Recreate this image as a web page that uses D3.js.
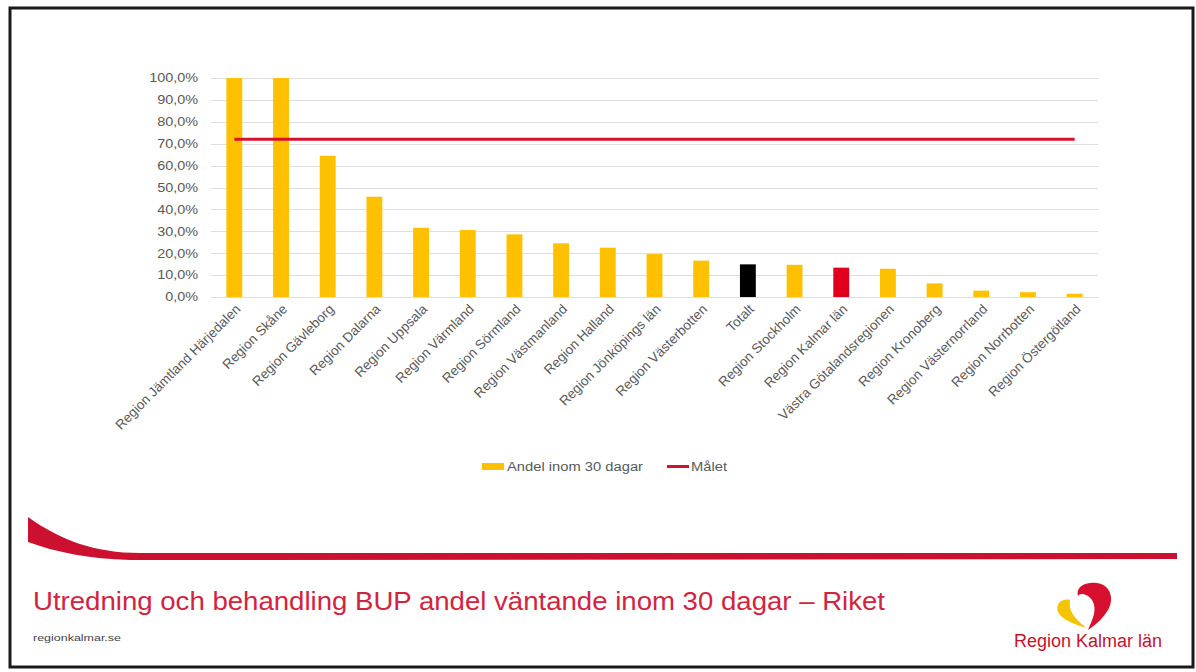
<!DOCTYPE html>
<html lang="sv">
<head>
<meta charset="UTF-8">
<title>Utredning och behandling BUP</title>
<script src="https://d3js.org/d3.v7.min.js"></script>
<style>
  body { margin: 0; background: #ffffff; }
  svg { display: block; font-family: "Liberation Sans", Arial, sans-serif; }
</style>
</head>
<body>
<div id="chart"></div>
<script>
// data
var categories = ["Region Jämtland Härjedalen", "Region Skåne", "Region Gävleborg", "Region Dalarna",
  "Region Uppsala", "Region Värmland", "Region Sörmland", "Region Västmanland", "Region Halland",
  "Region Jönköpings län", "Region Västerbotten", "Totalt", "Region Stockholm", "Region Kalmar län",
  "Västra Götalandsregionen", "Region Kronoberg", "Region Västernorrland", "Region Norrbotten",
  "Region Östergötland"];
var andel = [1.0, 1.0, 0.645, 0.458, 0.316, 0.306, 0.286, 0.245, 0.225, 0.196, 0.166,
  0.149, 0.147, 0.134, 0.129, 0.062, 0.029, 0.022, 0.015];
var malet = 0.72;
var yTicks = [0, 0.1, 0.2, 0.3, 0.4, 0.5, 0.6, 0.7, 0.8, 0.9, 1.0];
var legendLabels = ["Andel inom 30 dagar", "Målet"];
var title = "Utredning och behandling BUP andel väntande inom 30 dagar – Riket";

var W = 1196, H = 672;
var svg = d3.select("#chart").append("svg").attr("width", W).attr("height", H);

// slide frame
svg.append("rect").attr("x", 10).attr("y", 8).attr("width", 1183).attr("height", 659)
  .attr("fill", "#fff").attr("stroke", "#1a1a1a").attr("stroke-width", 3);

var x = d3.scaleBand().domain(categories).range([211, 1098]).paddingInner(0.66).paddingOuter(0.33);
var y = d3.scaleLinear().domain([0, 1]).range([297, 78]);

var sv = d3.formatLocale({decimal: ",", thousands: " ", grouping: [3], currency: ["", " kr"]});
var pct = sv.format(".1%");

// the slide text looks a bit wider than the font, stretch it
function widen(sel, k) {
  sel.each(function() {
    var len = this.getComputedTextLength();
    d3.select(this).attr("textLength", len * k).attr("lengthAdjust", "spacingAndGlyphs");
  });
}

// gridlines
svg.append("g").selectAll("line").data(yTicks).join("line")
  .attr("x1", 211).attr("x2", 1098)
  .attr("y1", function(d) { return Math.round(y(d)) + 0.5; })
  .attr("y2", function(d) { return Math.round(y(d)) + 0.5; })
  .attr("stroke", "#dedede").attr("stroke-width", 1);

// y axis labels
var yAxis = svg.append("g").attr("transform", "translate(205,0)")
  .call(d3.axisLeft(y).tickValues(yTicks).tickFormat(pct).tickSize(0).tickPadding(7));
yAxis.select(".domain").remove();
yAxis.selectAll("text").attr("fill", "#595959").style("font-size", "12px")
  .style("font-family", "'Liberation Sans', Arial, sans-serif");
widen(yAxis.selectAll("text"), 1.2);

function barColor(name) {
  if (name === "Totalt") return "#000000";
  if (name === "Region Kalmar län") return "#e0001b";
  return "#ffc000";
}

// bars
svg.append("g").selectAll("rect").data(categories).join("rect")
  .attr("x", function(d) { return x(d); })
  .attr("y", function(d, i) { return y(andel[i]); })
  .attr("width", x.bandwidth())
  .attr("height", function(d, i) { return y(0) - y(andel[i]); })
  .attr("fill", barColor);

// target line
var line = d3.line()
  .x(function(d) { return x(d) + x.bandwidth() / 2; })
  .y(function() { return y(malet); });
svg.append("path").datum(categories).attr("d", line)
  .attr("fill", "none").attr("stroke", "#d8102f").attr("stroke-width", 3);

// x labels, rotated
var xAxis = svg.append("g").attr("transform", "translate(0,297)")
  .call(d3.axisBottom(x).tickSize(0).tickPadding(0));
xAxis.select(".domain").remove();
xAxis.selectAll("text")
  .attr("fill", "#595959").style("font-size", "13.5px")
  .style("font-family", "'Liberation Sans', Arial, sans-serif")
  .attr("text-anchor", "end")
  .attr("dy", null)
  .attr("transform", "translate(7,13) rotate(-45)");

// legend
var lg = svg.append("g");
lg.append("rect").attr("x", 482).attr("y", 463).attr("width", 22).attr("height", 7).attr("fill", "#ffc000");
lg.append("text").attr("x", 507).attr("y", 471).text(legendLabels[0])
  .attr("fill", "#595959").style("font-size", "12px")
  .attr("textLength", 136).attr("lengthAdjust", "spacingAndGlyphs");
lg.append("line").attr("x1", 667).attr("x2", 689).attr("y1", 466.5).attr("y2", 466.5)
  .attr("stroke", "#d8102f").attr("stroke-width", 3);
lg.append("text").attr("x", 691).attr("y", 471).text(legendLabels[1])
  .attr("fill", "#595959").style("font-size", "12px")
  .attr("textLength", 36).attr("lengthAdjust", "spacingAndGlyphs");

// red swoosh
svg.append("path")
  .attr("d", "M28,517 C60,540 95,553 140,553 L1177,553 L1177,559 L130,560 C90,559 55,552 28,542 Z")
  .attr("fill", "#cc1130");

// title and footer
svg.append("text").attr("x", 33).attr("y", 610).text(title)
  .attr("fill", "#d2243f").style("font-size", "25px")
  .attr("textLength", 852).attr("lengthAdjust", "spacingAndGlyphs");
svg.append("text").attr("x", 33).attr("y", 641).text("regionkalmar.se")
  .attr("fill", "#444").style("font-size", "9px")
  .attr("textLength", 88).attr("lengthAdjust", "spacingAndGlyphs");

// logo
var logo = svg.append("g");
logo.append("path")
  .attr("d", "M1090,583 C1108,580 1116,596 1108,610 C1102,620 1094,626 1088,630 C1092,620 1098,610 1092,600 C1088,594 1080,592 1078,596 C1076,588 1082,584 1090,583 Z")
  .attr("fill", "#d8102f");
logo.append("path")
  .attr("d", "M1070,600 C1062,598 1055,604 1058,612 C1062,620 1074,624 1086,628 C1078,620 1068,614 1070,600 Z")
  .attr("fill", "#f5c400");
logo.append("text").attr("x", 1088).attr("y", 647).attr("text-anchor", "middle")
  .text("Region Kalmar län").attr("fill", "#c8102e").style("font-size", "18px");
</script>
</body>
</html>
